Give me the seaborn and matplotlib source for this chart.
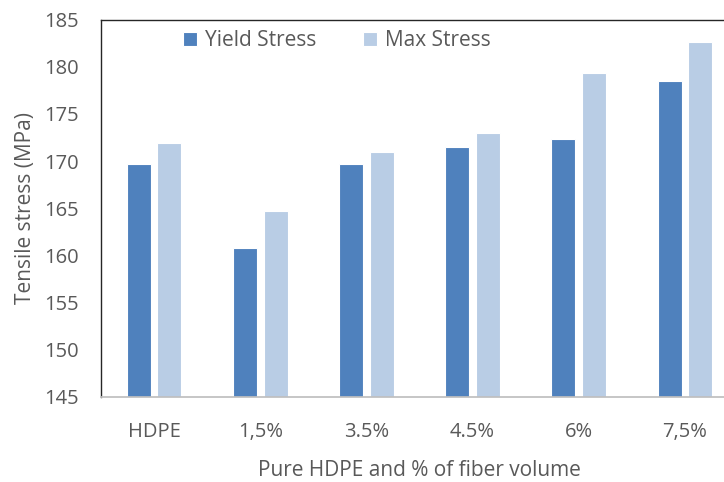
import pandas as pd
import numpy as np
import matplotlib

matplotlib.use("Agg")

import matplotlib.pyplot as plt
import seaborn as sns

sns.set_theme(style="white")
plt.rcParams["font.family"] = ["Open Sans", "DejaVu Sans"]

# data
categories = ["HDPE", "1,5%", "3.5%", "4.5%", "6%", "7,5%"]
yield_stress = [169.7, 160.8, 169.7, 171.5, 172.3, 178.45]
max_stress = [171.9, 164.7, 171.0, 173.0, 179.3, 182.6]
series = ["Yield Stress", "Max Stress"]
y_ticks = [145, 150, 155, 160, 165, 170, 175, 180, 185]

df = pd.DataFrame({
    "category": categories * 2,
    "series": [series[0]] * len(categories) + [series[1]] * len(categories),
    "value": yield_stress + max_stress,
})

TEXT = "#595959"

fig = plt.figure(figsize=(7.24, 4.82), dpi=100)
# axes runs past the right edge like the cropped original
ax = fig.add_axes([101 / 724, 85 / 482, 637 / 724, 377.5 / 482])

sns.barplot(
    data=df, x="category", y="value", hue="series",
    palette=["#4F81BD", "#B9CDE5"], saturation=1, width=0.576, gap=0.215,
    edgecolor="white", linewidth=0.8, ax=ax, errorbar=None,
)

ax.set_ylim(145, 185)
ax.set_xlim(-0.5, 5.5)
ax.set_yticks(y_ticks)
ax.tick_params(axis="both", length=0, labelsize=14.5, colors=TEXT)
ax.tick_params(axis="y", pad=16)
ax.tick_params(axis="x", pad=18)

ax.set_xlabel("Pure HDPE and % of fiber volume", fontsize=15, color=TEXT, labelpad=13)
ax.set_ylabel("Tensile stress (MPa)", fontsize=15, color=TEXT, labelpad=6)

for side in ["top", "left"]:
    ax.spines[side].set_color("#262626")
    ax.spines[side].set_linewidth(1.0)
ax.spines["bottom"].set_color("#BFBFBF")
ax.spines["right"].set_visible(False)

handles, labels = ax.get_legend_handles_labels()
ax.legend(
    handles, labels, loc="center left", bbox_to_anchor=(183 / 724, 1 - 41 / 482),
    bbox_transform=fig.transFigure, ncol=2, frameon=False, fontsize=15,
    handlelength=0.65, handleheight=0.65, handletextpad=0.4, columnspacing=2.25,
    labelcolor=TEXT, borderpad=0, borderaxespad=0,
)

fig.savefig("out.png", dpi=100)
plt.close(fig)
